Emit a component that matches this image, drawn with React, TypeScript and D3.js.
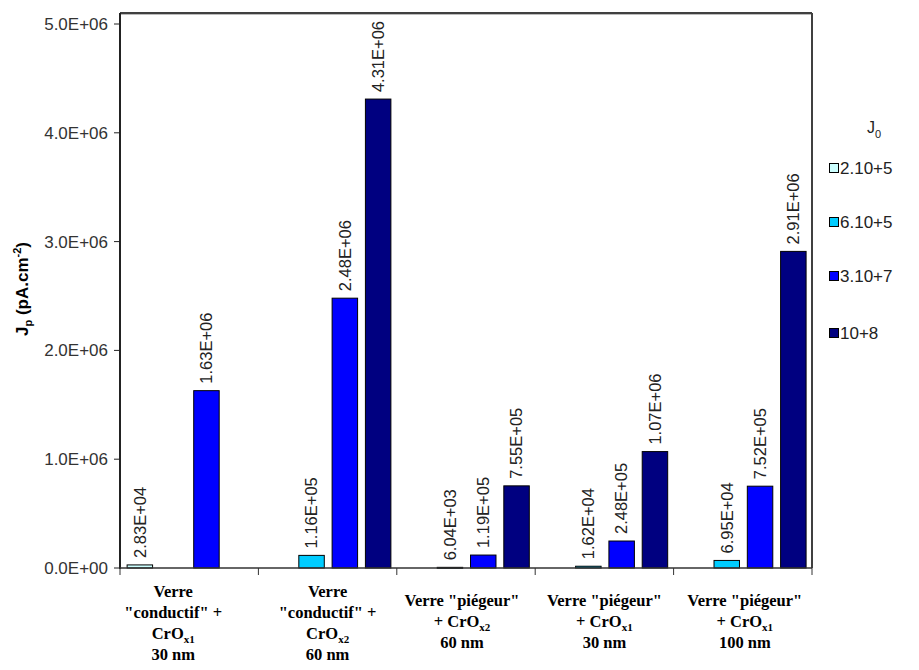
import React from "react";
import * as d3 from "d3";

// ---------- data ----------
const categoryLines: string[][] = [
  ["Verre", "\"conductif\" +", "CrO_{x1}", "30 nm"],
  ["Verre", "\"conductif\" +", "CrO_{x2}", "60 nm"],
  ["Verre \"piégeur\"", "+ CrO_{x2}", "60 nm"],
  ["Verre \"piégeur\"", "+ CrO_{x1}", "30 nm"],
  ["Verre \"piégeur\"", "+ CrO_{x1}", "100 nm"],
];
const seriesNames = ["2.10+5", "6.10+5", "3.10+7", "10+8"];
const seriesColors = ["#CCFFFF", "#00CCFF", "#0000FF", "#000080"];
const serie1: (number | null)[] = [2.83e4, null, null, null, null];
const serie2: (number | null)[] = [null, 1.16e5, 6.04e3, 1.62e4, 6.95e4];
const serie3: (number | null)[] = [1.63e6, 2.48e6, 1.19e5, 2.48e5, 7.52e5];
const serie4: (number | null)[] = [null, 4.31e6, 7.55e5, 1.07e6, 2.91e6];
const yTicks = [0, 1e6, 2e6, 3e6, 4e6, 5e6];
const series = [serie1, serie2, serie3, serie4];

// ---------- layout ----------
const W = 919, H = 670;
const left = 120, right = 812, bottom = 568, topTick = 24, frameTop = 13;
const labelDx = [-16, 0, -4, 0, 2];
const sans = "'Liberation Sans', Arial, sans-serif";
const serif = "'Liberation Serif', 'DejaVu Serif', 'Times New Roman', serif";

function fmtExp(v: number, digits: number) {
  const [m, e] = v.toExponential(digits).split("e");
  const sign = e[0];
  const num = e.slice(1).padStart(2, "0");
  return `${m}E${sign}${num}`;
}

function renderLine(s: string) {
  const m = s.match(/^(.*)_\{(.*)\}(.*)$/);
  if (!m) return s;
  return (
    <>
      {m[1]}
      <tspan fontSize={11} dy={4}>{m[2]}</tspan>
      {m[3] ? <tspan dy={-4}>{m[3]}</tspan> : null}
    </>
  );
}

export default function App() {
  const x = d3.scaleBand<number>().domain(d3.range(categoryLines.length)).range([left, right]).padding(0);
  const bw = x.bandwidth();
  const xs = d3
    .scaleBand<number>()
    .domain(d3.range(series.length))
    .range([3.2, bw - 2])
    .paddingInner(0.235)
    .paddingOuter(0.1175);
  const y = d3.scaleLinear().domain([0, 5e6]).range([bottom, topTick]);

  const boundaries = d3.range(categoryLines.length + 1).map((i) => left + i * bw);

  return (
    <svg width={W} height={H} style={{ position: "absolute", left: 0, top: 0, background: "#fff" }}>
      {/* frame */}
      <line x1={left} x2={right} y1={frameTop} y2={frameTop} stroke="#404040" strokeWidth={2} />
      <line x1={left} x2={right} y1={frameTop + 1.5} y2={frameTop + 1.5} stroke="#bbb" strokeWidth={1} />
      <line x1={right} x2={right} y1={frameTop} y2={bottom} stroke="#404040" strokeWidth={2} />

      {/* bars */}
      {series.map((ser, si) =>
        ser.map((v, ci) => {
          if (v == null) return null;
          const bx = (x(ci) as number) + (xs(si) as number);
          const by = y(v);
          return (
            <g key={`b${si}-${ci}`}>
              <rect
                x={bx}
                y={by}
                width={xs.bandwidth()}
                height={Math.max(bottom - by, 1)}
                fill={seriesColors[si]}
                stroke="#000"
                strokeWidth={1}
              />
              <text
                transform={`translate(${bx + xs.bandwidth() / 2},${by - 7}) rotate(-90)`}
                dy="0.35em"
                fontFamily={sans}
                fontSize={16.5}
                fill="#222"
              >
                {fmtExp(v, 2)}
              </text>
            </g>
          );
        })
      )}

      {/* y axis */}
      <line x1={left} x2={left} y1={frameTop} y2={bottom + 1} stroke="#222" strokeWidth={2} />
      {yTicks.map((t) => (
        <g key={`yt${t}`}>
          <line x1={left - 6} x2={left} y1={y(t)} y2={y(t)} stroke="#222" strokeWidth={1} />
          <text x={left - 12} y={y(t)} dy="0.35em" textAnchor="end" fontFamily={sans} fontSize={17} fill="#333">
            {fmtExp(t, 1)}
          </text>
        </g>
      ))}

      {/* x axis */}
      <line x1={left} x2={right} y1={bottom} y2={bottom} stroke="#333" strokeWidth={1.5} />
      {boundaries.map((bx, i) => (
        <line key={`xt${i}`} x1={bx} x2={bx} y1={bottom} y2={bottom + 7} stroke="#333" strokeWidth={1} />
      ))}
      {categoryLines.map((lines, ci) => {
        const cx = (x(ci) as number) + bw / 2 + labelDx[ci];
        const y0 = lines.length === 4 ? 597 : 606;
        return (
          <text
            key={`xl${ci}`}
            textAnchor="middle"
            style={{ fontFamily: serif, fontSize: "16.5px", fontWeight: 700 }}
            fill="#000"
          >
            {lines.map((ln, li) => (
              <tspan key={li} x={cx} y={y0 + li * 21}>
                {renderLine(ln)}
              </tspan>
            ))}
          </text>
        );
      })}

      {/* y title */}
      <text
        transform={`translate(28,289) rotate(-90)`}
        textAnchor="middle"
        fontFamily={sans}
        fontSize={17}
        fontWeight="bold"
        fill="#000"
      >
        J<tspan fontSize={11} dy={4}>p</tspan>
        <tspan dy={-4}> (pA.cm</tspan>
        <tspan fontSize={11} dy={-7}>-2</tspan>
        <tspan dy={7}>)</tspan>
      </text>

      {/* legend */}
      <text x={867} y={133} fontFamily={sans} fontSize={16} fill="#222">
        J<tspan fontSize={11} dy={5}>0</tspan>
      </text>
      {seriesNames.map((n, i) => {
        const ly = [168, 222, 276, 333][i];
        return (
          <g key={`lg${i}`}>
            <rect x={829.5} y={ly - 4.5} width={9} height={9} fill={seriesColors[i]} stroke="#000" strokeWidth={1} />
            <text x={840} y={ly} dy="0.36em" fontFamily={sans} fontSize={17} fill="#222">
              {n}
            </text>
          </g>
        );
      })}
    </svg>
  );
}
